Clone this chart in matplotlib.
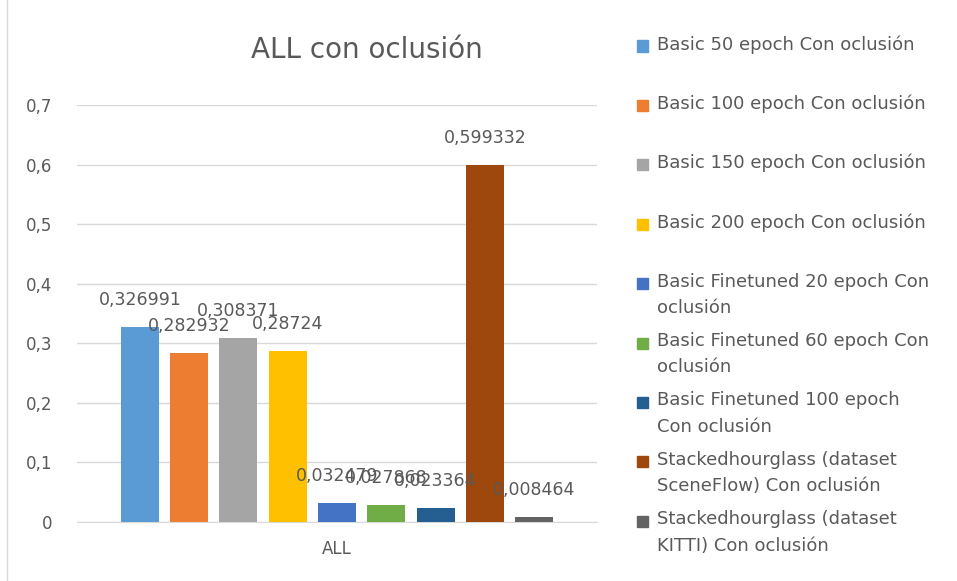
import matplotlib.pyplot as plt
from matplotlib.patches import Rectangle
from matplotlib.lines import Line2D

series = [
    "Basic 50 epoch Con oclusión",
    "Basic 100 epoch Con oclusión",
    "Basic 150 epoch Con oclusión",
    "Basic 200 epoch Con oclusión",
    "Basic Finetuned 20 epoch Con\noclusión",
    "Basic Finetuned 60 epoch Con\noclusión",
    "Basic Finetuned 100 epoch\nCon oclusión",
    "Stackedhourglass (dataset\nSceneFlow) Con oclusión",
    "Stackedhourglass (dataset\nKITTI) Con oclusión",
]
values = [0.326991, 0.282932, 0.308371, 0.28724, 0.032479,
          0.027868, 0.023364, 0.599332, 0.008464]
colors = ["#5B9BD5", "#ED7D31", "#A5A5A5", "#FFC000", "#4472C4",
          "#70AD47", "#255E91", "#9E480E", "#636363"]
category = "ALL"
yticks = [0, 0.1, 0.2, 0.3, 0.4, 0.5, 0.6, 0.7]

txt = "#595959"
W, H = 957, 581

fig = plt.figure(figsize=(W / 100, H / 100), dpi=100)
ax = fig.add_axes([77 / W, 59 / H, 520 / W, 417 / H])

step = 0.0948
width = 0.073
n = len(values)
for i, (v, c) in enumerate(zip(values, colors)):
    x = (i - (n - 1) / 2) * step
    ax.bar(x, v, width=width, color=c, zorder=3)
    ax.annotate(f"{v:g}".replace(".", ","), (x, v), xytext=(0, 13),
                textcoords="offset points", ha="center", va="bottom",
                fontsize=12.5, color=txt, zorder=4)

ax.set_xlim(-0.5, 0.5)
ax.set_ylim(0, 0.7)
ax.set_yticks(yticks)
ax.set_yticklabels([f"{t:g}".replace(".", ",") for t in yticks])
ax.set_xticks([0])
ax.set_xticklabels([category])
ax.tick_params(length=0, labelsize=12, labelcolor=txt)
ax.tick_params(axis="y", pad=18)
ax.tick_params(axis="x", pad=13)
ax.grid(axis="y", color="#D9D9D9", linewidth=1, zorder=0)
for s in ["top", "right", "left"]:
    ax.spines[s].set_visible(False)
ax.spines["bottom"].set_color("#D9D9D9")

fig.text(367 / W, 1 - 50 / H, "ALL con oclusión", ha="center", va="center",
         fontsize=20, color=txt)

# legend drawn by hand so wrapped entries keep Excel's even spacing
y0 = 46
gap = 59.4
for i, (lab, c) in enumerate(zip(series, colors)):
    yc = y0 + i * gap
    fig.add_artist(Rectangle((637 / W, 1 - (yc + 5.5) / H), 11 / W, 11 / H,
                             transform=fig.transFigure, color=c))
    fig.text(657 / W, 1 - (yc - 11) / H, lab, ha="left", va="top",
             fontsize=13, color=txt, linespacing=1.6)

# chart area border on the left edge
fig.add_artist(Line2D([7 / W, 7 / W], [0, 1], transform=fig.transFigure,
                      color="#D9D9D9", linewidth=1))

fig.savefig("out.png", dpi=100)
